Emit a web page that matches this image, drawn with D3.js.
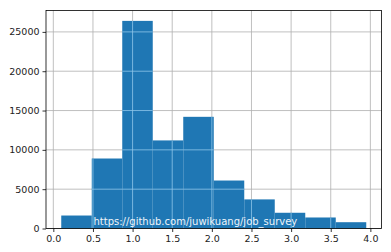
<!DOCTYPE html>
<html>
<head>
<meta charset="utf-8">
<script src="https://cdn.jsdelivr.net/npm/d3@7"></script>
<style>
  body { margin: 0; background: #fff; }
  #chart text { font-family: "DejaVu Sans", sans-serif; }
</style>
</head>
<body>
<div id="chart"></div>
<script>
// histogram bins (left edges) and counts
const binStart = 0.1;
const binWidth = 0.3848;
const counts = [1650, 8900, 26400, 11200, 14200, 6100, 3700, 2000, 1400, 800];
const xTicks = [0.0, 0.5, 1.0, 1.5, 2.0, 2.5, 3.0, 3.5, 4.0];
const yTicks = [0, 5000, 10000, 15000, 20000, 25000];
const watermark = "https://github.com/juwikuang/job_survey";

const width = 391, height = 252;
const margin = {top: 10.5, right: 9.5, bottom: 23.5, left: 46};

const bins = counts.map((c, i) => ({
    x0: binStart + i * binWidth,
    x1: binStart + (i + 1) * binWidth,
    n: c
}));

let svg = d3.select("#chart")
    .append("svg")
    .attr("width", width)
    .attr("height", height);

const xEnd = bins[bins.length - 1].x1;
const xPad = (xEnd - binStart) * 0.05;
let x = d3.scaleLinear()
    .domain([binStart - xPad, xEnd + xPad])
    .range([margin.left, width - margin.right]);

let y = d3.scaleLinear()
    .domain([0, d3.max(counts) * 1.05])
    .range([height - margin.bottom, margin.top]);

// grid below bars
let grid = svg.append("g");
function drawGrid(g, color) {
    g.selectAll("line.vx")
        .data(xTicks)
        .enter()
        .append("line")
        .attr("x1", d => x(d)).attr("x2", d => x(d))
        .attr("y1", y.range()[0]).attr("y2", y.range()[1])
        .attr("stroke", color)
        .attr("stroke-width", 0.8);
    g.selectAll("line.hy")
        .data(yTicks)
        .enter()
        .append("line")
        .attr("x1", x.range()[0]).attr("x2", x.range()[1])
        .attr("y1", d => y(d)).attr("y2", d => y(d))
        .attr("stroke", color)
        .attr("stroke-width", 0.8);
}
drawGrid(grid, "#b0b0b0");

// bars
svg.append("g")
    .selectAll("rect")
    .data(bins)
    .enter()
    .append("rect")
    .attr("x", d => x(d.x0))
    .attr("width", d => x(d.x1) - x(d.x0))
    .attr("y", d => y(d.n))
    .attr("height", d => y(0) - y(d.n))
    .attr("fill", "#1f77b4");

// grid over the bars shows up light blue
let clip = svg.append("clipPath").attr("id", "barclip");
clip.selectAll("rect")
    .data(bins)
    .enter()
    .append("rect")
    .attr("x", d => x(d.x0))
    .attr("width", d => x(d.x1) - x(d.x0))
    .attr("y", d => y(d.n))
    .attr("height", d => y(0) - y(d.n));
let gridTop = svg.append("g").attr("clip-path", "url(#barclip)");
drawGrid(gridTop, "#8fc6ea");

// watermark
svg.append("text")
    .attr("x", x(0.5) + 0.5)
    .attr("y", y(0) - 4)
    .attr("fill", "#eef4fa")
    .style("font-size", "10px")
    .text(watermark);

// frame
svg.append("rect")
    .attr("x", x.range()[0])
    .attr("y", y.range()[1])
    .attr("width", x.range()[1] - x.range()[0])
    .attr("height", y.range()[0] - y.range()[1])
    .attr("fill", "none")
    .attr("stroke", "#000")
    .attr("stroke-width", 0.8);

// axes
let xAxis = svg.append("g")
    .attr("transform", `translate(0,${y(0)})`)
    .call(d3.axisBottom(x).tickValues(xTicks).tickFormat(d3.format(".1f")).tickSize(3.5).tickPadding(3));
let yAxis = svg.append("g")
    .attr("transform", `translate(${x.range()[0]},0)`)
    .call(d3.axisLeft(y).tickValues(yTicks).tickFormat(d => d).tickSize(3.5).tickPadding(3));

[xAxis, yAxis].forEach(a => {
    a.select(".domain").remove();
    a.selectAll("line").attr("stroke", "#000").attr("stroke-width", 0.8);
    a.selectAll("text").attr("fill", "#222").style("font-size", "9.5px");
});
</script>
</body>
</html>
